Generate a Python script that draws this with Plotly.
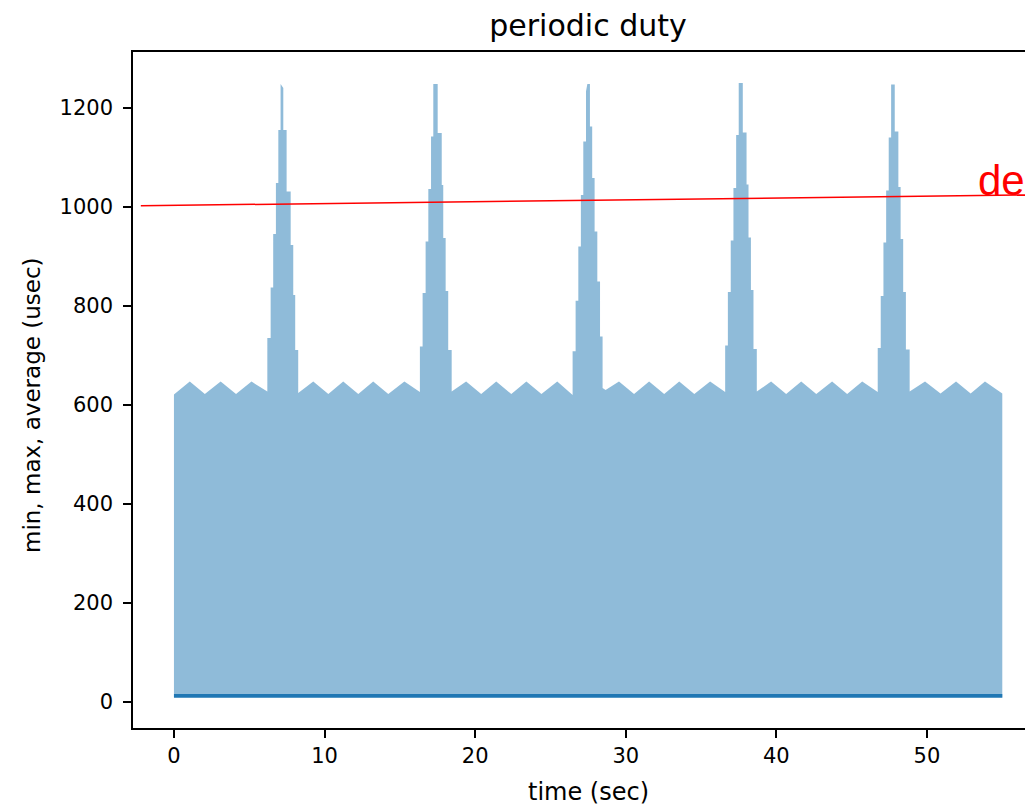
import plotly.graph_objects as go

# ---- data ----
time_sec = [
    0.0, 0.15, 1.05, 2.05, 3.1, 4.12, 5.15, 6.2,
    6.2, 6.42, 6.42, 6.59, 6.59, 6.77, 6.77, 6.93, 6.93, 7.08, 7.08, 7.26, 7.26, 7.48, 7.48,
    7.75, 7.75, 7.92, 7.92, 8.05, 8.05, 8.25, 8.25,
    9.25, 10.25, 11.24, 12.24, 13.23, 14.23, 15.3, 16.33,
    16.33, 16.51, 16.51, 16.71, 16.71, 16.89, 16.89, 17.07, 17.07, 17.22, 17.22, 17.51, 17.51,
    17.78, 17.78, 17.88, 17.88, 18.04, 18.04, 18.21, 18.21, 18.44, 18.44,
    19.4, 20.4, 21.4, 22.4, 23.4, 24.4, 25.45, 26.47,
    26.47, 26.67, 26.67, 26.85, 26.85, 27.02, 27.02, 27.18, 27.18, 27.36, 27.36, 27.45, 27.62,
    27.62, 27.77, 27.77, 27.93, 27.93, 28.11, 28.11, 28.29, 28.29, 28.46, 28.46,
    28.66, 29.55, 30.55, 31.55, 32.55, 33.55, 34.55, 35.6, 36.6,
    36.6, 36.78, 36.78, 36.97, 36.97, 37.15, 37.15, 37.33, 37.33, 37.5, 37.5, 37.77, 37.77,
    38.02, 38.02, 38.15, 38.15, 38.31, 38.31, 38.48, 38.48, 38.7, 38.7,
    39.65, 40.65, 41.65, 42.65, 43.7, 44.7, 45.7, 46.73,
    46.73, 46.93, 46.93, 47.11, 47.11, 47.29, 47.29, 47.46, 47.46, 47.62, 47.62, 47.86, 47.86,
    48.1, 48.1, 48.25, 48.25, 48.42, 48.42, 48.6, 48.6, 48.85, 48.85,
    49.87, 50.9, 51.93, 52.9, 53.85, 55.0,
]
max_usec = [
    621, 625, 647, 622, 647, 622, 647, 627,
    735, 735, 837, 837, 945, 945, 1048, 1048, 1155, 1155, 1248, 1240, 1155, 1155, 1031,
    1031, 923, 923, 822, 822, 711, 711, 624,
    647, 622, 647, 622, 647, 622, 647, 626,
    718, 718, 826, 826, 930, 930, 1036, 1036, 1142, 1142, 1248, 1248, 1149,
    1149, 1044, 1044, 937, 937, 830, 830, 711, 711, 627,
    647, 622, 647, 622, 647, 622, 647, 620,
    708, 708, 810, 810, 920, 920, 1024, 1024, 1132, 1132, 1233, 1248, 1248,
    1162, 1162, 1058, 1058, 950, 950, 849, 849, 738, 738, 634,
    630, 647, 622, 647, 622, 647, 622, 647, 626,
    720, 720, 828, 828, 932, 932, 1038, 1038, 1145, 1145, 1250, 1250, 1150,
    1150, 1045, 1045, 938, 938, 832, 832, 713, 713, 627,
    647, 622, 647, 622, 647, 622, 647, 626,
    715, 715, 820, 820, 928, 928, 1033, 1033, 1140, 1140, 1247, 1247, 1152,
    1152, 1040, 1040, 935, 935, 828, 828, 712, 712, 627,
    647, 623, 647, 623, 647, 623,
]
min_time = [0.0, 55.0]
min_usec = [8, 8]
avg_time = [0.0, 55.0]
avg_usec = [12.5, 12.5]

deadline_x = [-2.2, 57.04]
deadline_y = [1002, 1024]

x_ticks = [0, 10, 20, 30, 40, 50]
y_ticks = [0, 200, 400, 600, 800, 1000, 1200]

title_text = "periodic duty"
x_label = "time (sec)"
y_label = "min, max, average (usec)"
note_text = "de"  # visible part of the red note, cut by the picture edge

# ---- layout geometry (page pixels; the page body has an 8px margin) ----
OFF = 8
W, H = 1033 - OFF, 809 - OFF
PL, PR, PT, PB = 133, 1033, 52, 728          # plot area in page pixels
L, T = PL - OFF, PT - OFF
R, B = (1033 - PR), (809 - PB)
PW, PH = PR - PL, PB - PT

FONT = "DejaVu Sans"
C0 = "#1f77b4"

fig = go.Figure()
fig.add_trace(go.Scatter(x=min_time, y=min_usec, mode="lines",
                         line=dict(width=0, color=C0), showlegend=False,
                         hoverinfo="skip"))
fig.add_trace(go.Scatter(x=time_sec, y=max_usec, mode="lines",
                         line=dict(width=0, color=C0), fill="tonexty",
                         fillcolor="rgba(31,119,180,0.5)", showlegend=False))
fig.add_trace(go.Scatter(x=avg_time, y=avg_usec, mode="lines",
                         line=dict(width=3.5, color=C0), showlegend=False))

fig.add_shape(type="line", xref="x", yref="y",
              x0=deadline_x[0], y0=deadline_y[0], x1=deadline_x[1], y1=deadline_y[1],
              line=dict(color="red", width=1.5), layer="above")

def px_to_paper_x(px):
    return (px - PL) / PW

def px_to_paper_y(py):
    return (PB - py) / PH

annotations = [
    dict(text=note_text, xref="paper", yref="paper",
         x=px_to_paper_x(976), y=px_to_paper_y(196), xanchor="left", yanchor="bottom",
         showarrow=False, font=dict(family="Liberation Sans", size=42, color="red"),
         yshift=-10),
    dict(text=x_label, xref="paper", yref="paper",
         x=px_to_paper_x(588), y=px_to_paper_y(792), xanchor="center", yanchor="middle",
         showarrow=False, font=dict(family=FONT, size=24, color="black")),
    dict(text=y_label, xref="paper", yref="paper", textangle=-90,
         x=px_to_paper_x(32), y=px_to_paper_y(405), xanchor="center", yanchor="middle",
         showarrow=False, font=dict(family=FONT, size=23, color="black")),
]

fig.update_layout(
    width=W, height=H,
    margin=dict(l=L, r=R, t=T, b=B, pad=0),
    paper_bgcolor="white", plot_bgcolor="white",
    title=dict(text=title_text, x=(588 - OFF) / W, y=1 - (25 - OFF) / H,
               xanchor="center", yanchor="middle", xref="container", yref="container",
               font=dict(family=FONT, size=30, color="black")),
    annotations=annotations,
    font=dict(family=FONT, color="black"),
)
fig.update_xaxes(range=[-2.72, 57.04], tickvals=x_ticks, ticks="outside", ticklen=8,
                 tickwidth=1.5, tickcolor="black", showline=True, linecolor="black",
                 linewidth=1.6, mirror=True, showgrid=False, zeroline=False,
                 tickfont=dict(family=FONT, size=21, color="black"))
fig.update_yaxes(range=[-52.5, 1312.5], tickvals=y_ticks, ticks="outside", ticklen=8,
                 tickwidth=1.5, tickcolor="black", showline=True, linecolor="black",
                 linewidth=1.6, mirror=False, showgrid=False, zeroline=False,
                 ticklabelstandoff=6,
                 tickfont=dict(family=FONT, size=21, color="black"))

fig.write_html("out.html")
